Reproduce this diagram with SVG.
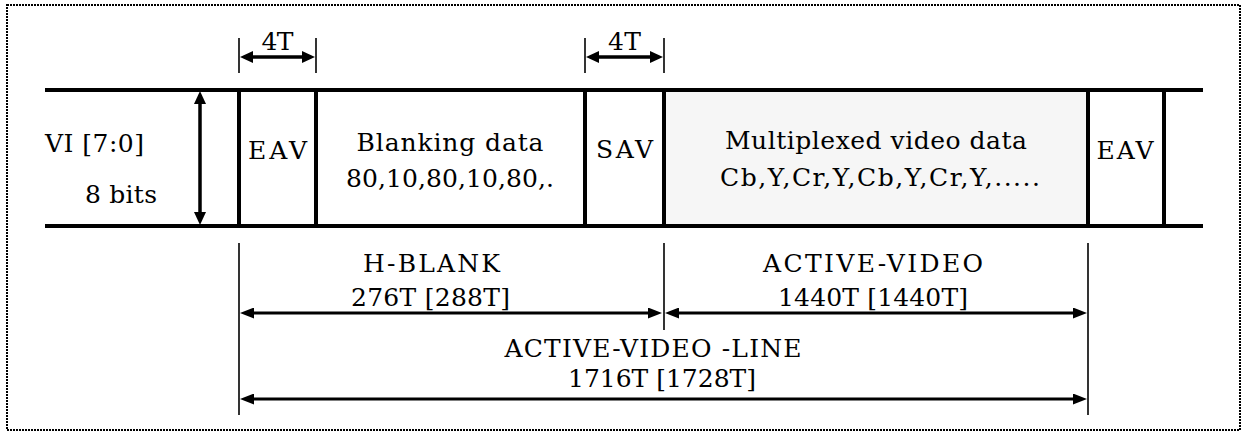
<svg xmlns="http://www.w3.org/2000/svg" width="1243" height="432" viewBox="0 0 1243 432">
<style>
  text { font-family: "DejaVu Serif", "Liberation Serif", serif; font-size: 25px; fill: #000; }
  .c { text-anchor: middle; }
  .bus { stroke: #000; stroke-width: 4; fill: none; }
  .thin { stroke: #000; stroke-width: 1.6; fill: none; }
  .arr { stroke: #000; stroke-width: 3.5; fill: none; }
  .arrb { stroke: #000; stroke-width: 3; fill: none; }
</style>
<defs>
  <marker id="ah" markerUnits="userSpaceOnUse" viewBox="0 0 13 12" markerWidth="13" markerHeight="12" refX="1" refY="6" orient="auto-start-reverse">
    <path d="M0,0 L13,6 L0,12 Z" fill="#000"/>
  </marker>
  <marker id="ahb" markerUnits="userSpaceOnUse" viewBox="0 0 14 11" markerWidth="14" markerHeight="11" refX="1" refY="5.5" orient="auto-start-reverse">
    <path d="M0,0 L14,5.5 L0,11 Z" fill="#000"/>
  </marker>
</defs>

<rect x="7" y="5" width="1233" height="425" fill="#fff" stroke="#000" stroke-width="2" stroke-dasharray="2 1"/>

<g id="bus">
  <rect x="664" y="90" width="424" height="136" fill="#f6f6f6"/>
  <line class="bus" x1="45" y1="90" x2="1203" y2="90"/>
  <line class="bus" x1="45" y1="226" x2="1203" y2="226"/>
</g>

<g id="label-vi">
  <text x="45" y="152" textLength="99" lengthAdjust="spacing">VI [7:0]</text>
  <text x="85" y="203" textLength="72" lengthAdjust="spacing">8 bits</text>
</g>

<g id="eav1">
  <line class="bus" x1="239" y1="90" x2="239" y2="226"/>
  <line class="bus" x1="316" y1="90" x2="316" y2="226"/>
  <text class="c" x="277.5" y="159" textLength="59" lengthAdjust="spacing">EAV</text>
</g>

<g id="blanking">
  <text class="c" x="450" y="151" textLength="187" lengthAdjust="spacing">Blanking data</text>
  <text class="c" x="450" y="187" textLength="208" lengthAdjust="spacing">80,10,80,10,80,.</text>
</g>

<g id="sav">
  <line class="bus" x1="585" y1="90" x2="585" y2="226"/>
  <line class="bus" x1="664" y1="90" x2="664" y2="226"/>
  <text class="c" x="624.5" y="158" textLength="57" lengthAdjust="spacing">SAV</text>
</g>

<g id="video">
  <text class="c" x="876" y="149" textLength="302" lengthAdjust="spacing">Multiplexed video data</text>
  <text class="c" x="880" y="186" textLength="320" lengthAdjust="spacing">Cb,Y,Cr,Y,Cb,Y,Cr,Y,.....</text>
</g>

<g id="eav2">
  <line class="bus" x1="1088" y1="90" x2="1088" y2="226"/>
  <line class="bus" x1="1164" y1="90" x2="1164" y2="226"/>
  <text class="c" x="1125" y="159" textLength="57" lengthAdjust="spacing">EAV</text>
</g>

<g id="connectors">
  <line class="arr" x1="200" y1="103" x2="200" y2="213" marker-start="url(#ah)" marker-end="url(#ah)"/>
  <line class="thin" x1="239" y1="38" x2="239" y2="73"/>
  <line class="thin" x1="316" y1="38" x2="316" y2="73"/>
  <line class="arr" x1="252" y1="57" x2="303" y2="57" marker-start="url(#ah)" marker-end="url(#ah)"/>
  <line class="thin" x1="585" y1="38" x2="585" y2="73"/>
  <line class="thin" x1="664" y1="38" x2="664" y2="73"/>
  <line class="arr" x1="598" y1="57" x2="651" y2="57" marker-start="url(#ah)" marker-end="url(#ah)"/>
  <line class="thin" x1="239" y1="243" x2="239" y2="415"/>
  <line class="thin" x1="664" y1="243" x2="664" y2="330"/>
  <line class="thin" x1="1088" y1="243" x2="1088" y2="415"/>
  <line class="arrb" x1="253" y1="313" x2="649" y2="313" marker-start="url(#ahb)" marker-end="url(#ahb)"/>
  <line class="arrb" x1="678" y1="313" x2="1074" y2="313" marker-start="url(#ahb)" marker-end="url(#ahb)"/>
  <line class="arrb" x1="253" y1="399" x2="1074" y2="399" marker-start="url(#ahb)" marker-end="url(#ahb)"/>
</g>

<g id="label-4t">
  <text class="c" x="277.5" y="50" textLength="32" lengthAdjust="spacing">4T</text>
  <text class="c" x="624.5" y="50" textLength="33" lengthAdjust="spacing">4T</text>
</g>

<g id="label-hblank">
  <text class="c" x="431.5" y="272" textLength="137" lengthAdjust="spacing">H-BLANK</text>
  <text class="c" x="430.5" y="306" textLength="159" lengthAdjust="spacing">276T [288T]</text>
</g>

<g id="label-active">
  <text class="c" x="873" y="272" textLength="220" lengthAdjust="spacing">ACTIVE-VIDEO</text>
  <text class="c" x="873" y="306" textLength="190" lengthAdjust="spacing">1440T [1440T]</text>
</g>

<g id="label-line">
  <text class="c" x="653" y="357" textLength="297" lengthAdjust="spacing">ACTIVE-VIDEO -LINE</text>
  <text class="c" x="662" y="387" textLength="188" lengthAdjust="spacing">1716T [1728T]</text>
</g>
</svg>
